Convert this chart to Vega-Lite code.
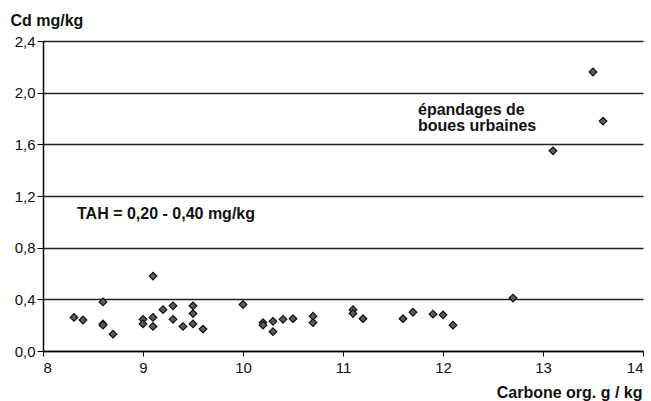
{
  "$schema": "https://vega.github.io/schema/vega-lite/v6.json",
  "width": 600,
  "height": 310,
  "autosize": {"type": "none"},
  "padding": {"left": 43, "top": 41, "right": 8, "bottom": 50},
  "background": "white",
  "config": {
    "view": {"stroke": null},
    "font": "Arial, Liberation Sans, sans-serif",
    "axis": {"labelFont": "Arial, Liberation Sans, sans-serif", "titleFont": "Arial, Liberation Sans, sans-serif"}
  },
  "datasets": {
    "pts": [
      {"c": 8.31, "cd": 0.26}, {"c": 8.40, "cd": 0.24}, {"c": 8.60, "cd": 0.38},
      {"c": 8.60, "cd": 0.21}, {"c": 8.60, "cd": 0.20}, {"c": 8.70, "cd": 0.13},
      {"c": 9.00, "cd": 0.245}, {"c": 9.00, "cd": 0.21}, {"c": 9.10, "cd": 0.58},
      {"c": 9.10, "cd": 0.26}, {"c": 9.10, "cd": 0.19}, {"c": 9.20, "cd": 0.32},
      {"c": 9.30, "cd": 0.35}, {"c": 9.30, "cd": 0.245}, {"c": 9.40, "cd": 0.19},
      {"c": 9.50, "cd": 0.35}, {"c": 9.50, "cd": 0.29}, {"c": 9.50, "cd": 0.21},
      {"c": 9.60, "cd": 0.17}, {"c": 10.0, "cd": 0.36}, {"c": 10.2, "cd": 0.22},
      {"c": 10.2, "cd": 0.20}, {"c": 10.3, "cd": 0.23}, {"c": 10.3, "cd": 0.15},
      {"c": 10.4, "cd": 0.245}, {"c": 10.5, "cd": 0.25}, {"c": 10.7, "cd": 0.27},
      {"c": 10.7, "cd": 0.22}, {"c": 11.1, "cd": 0.32}, {"c": 11.1, "cd": 0.29},
      {"c": 11.2, "cd": 0.25}, {"c": 11.6, "cd": 0.25}, {"c": 11.7, "cd": 0.30},
      {"c": 11.9, "cd": 0.285}, {"c": 12.0, "cd": 0.28}, {"c": 12.1, "cd": 0.20},
      {"c": 12.7, "cd": 0.41}, {"c": 13.1, "cd": 1.55}, {"c": 13.5, "cd": 2.16},
      {"c": 13.6, "cd": 1.78}
    ],
    "notes": [
      {"c": 8.34, "cd": 1.02, "t": "TAH = 0,20 - 0,40 mg/kg"},
      {"c": 11.75, "cd": 1.83, "t": "épandages de"},
      {"c": 11.75, "cd": 1.705, "t": "boues urbaines"}
    ]
  },
  "layer": [
    {
      "data": {"name": "pts"},
      "mark": {"type": "point", "shape": "diamond", "filled": true, "fill": "#5a5a5a", "stroke": "#111111", "strokeWidth": 1.2, "opacity": 1, "size": 58},
      "encoding": {
        "x": {
          "field": "c", "type": "quantitative",
          "scale": {"domain": [8, 14], "nice": false, "zero": false},
          "axis": {
            "values": [8, 9, 10, 11, 12, 13, 14],
            "format": "d",
            "grid": false,
            "domainColor": "#000000", "domainWidth": 1.5,
            "tickColor": "#000000", "tickSize": 5, "tickOffset": 0,
            "labelFontSize": 15, "labelColor": "#111111", "labelPadding": 4,
            "title": "Carbone org. g / kg",
            "titleFontSize": 16, "titleFontWeight": "bold", "titleColor": "#111111",
            "titleAnchor": "end", "titleX": 599, "titleY": 46, "titleAlign": "right", "titleBaseline": "alphabetic"
          }
        },
        "y": {
          "field": "cd", "type": "quantitative",
          "scale": {"domain": [0, 2.4], "nice": false},
          "axis": {
            "values": [0, 0.4, 0.8, 1.2, 1.6, 2.0, 2.4],
            "labelExpr": "replace(format(datum.value, '.1f'), '.', ',')",
            "grid": true, "gridColor": "#222222", "gridWidth": 1.5, "gridOpacity": 1,
            "domainColor": "#000000", "domainWidth": 1.5,
            "tickColor": "#000000", "tickSize": 6,
            "labelFontSize": 15, "labelColor": "#111111", "labelPadding": 2,
            "title": "Cd mg/kg",
            "titleFontSize": 16, "titleFontWeight": "bold", "titleColor": "#111111",
            "titleAngle": 0, "titleAlign": "left", "titleAnchor": "start",
            "titleX": -33, "titleY": -16, "titleBaseline": "alphabetic"
          }
        }
      }
    },
    {
      "data": {"name": "notes"},
      "mark": {"type": "text", "align": "left", "baseline": "alphabetic", "fontSize": 16, "fontWeight": "bold", "color": "#111111", "font": "Arial, Liberation Sans, sans-serif"},
      "encoding": {
        "x": {"field": "c", "type": "quantitative"},
        "y": {"field": "cd", "type": "quantitative"},
        "text": {"field": "t"}
      }
    }
  ]
}
